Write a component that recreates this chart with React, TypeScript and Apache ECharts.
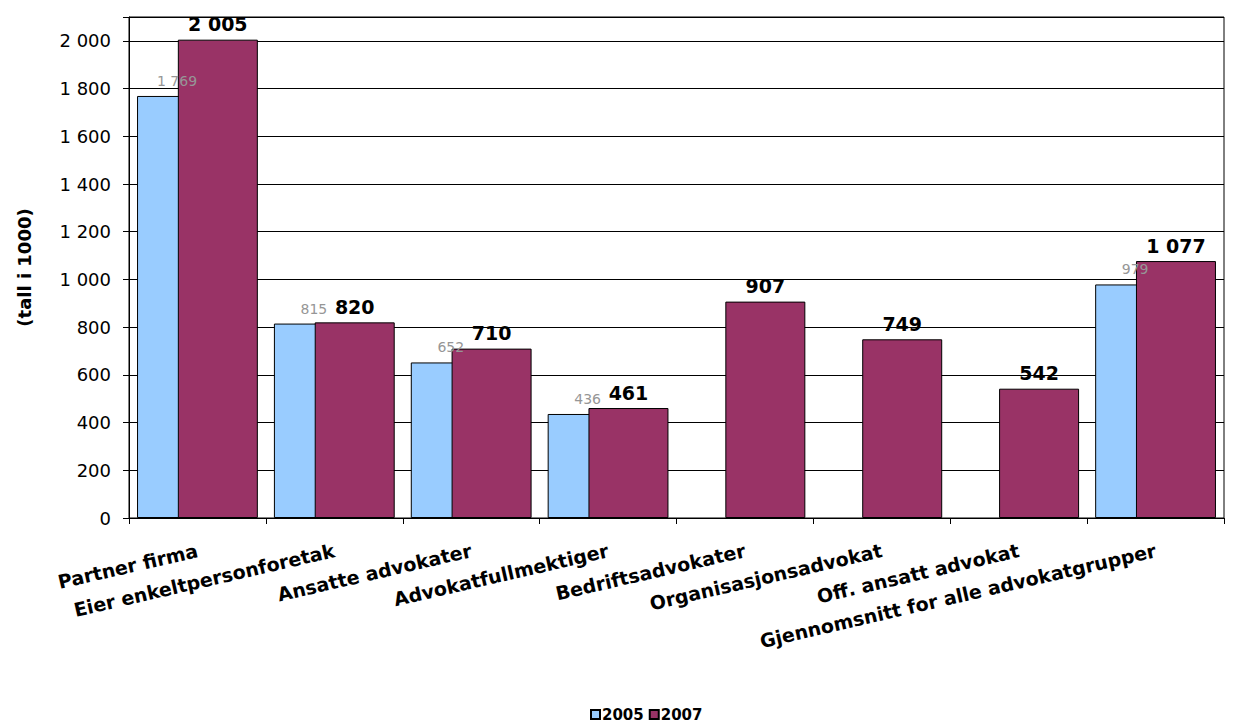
import React, { useEffect, useRef } from "react";
import * as echarts from "echarts";

const categories = [
  "Partner firma",
  "Eier enkeltpersonforetak",
  "Ansatte advokater",
  "Advokatfullmektiger",
  "Bedriftsadvokater",
  "Organisasjonsadvokat",
  "Off. ansatt advokat",
  "Gjennomsnitt for alle advokatgrupper",
];
const seriesNames = ["2005", "2007"];
const values2005: (number | null)[] = [1769, 815, 652, 436, null, null, null, 979];
const values2007: number[] = [2005, 820, 710, 461, 907, 749, 542, 1077];
const yAxisName = "(tall i 1000)";

const fmt = (v: number) =>
  v >= 1000 ? `${Math.floor(v / 1000)} ${String(v % 1000).padStart(3, "0")}` : String(v);

const FONT = "'DejaVu Sans', Verdana, sans-serif";

export default function App() {
  const ref = useRef<HTMLDivElement>(null);
  useEffect(() => {
    if (!ref.current) return;
    const chart = echarts.init(ref.current, undefined, { renderer: "svg" });
    chart.setOption({
      animation: false,
      backgroundColor: "#fff",
      textStyle: { fontFamily: FONT },
      grid: {
        left: 129,
        right: 10,
        top: 17,
        bottom: 204,
        show: true,
        borderColor: "#000",
        borderWidth: 1,
        containLabel: false,
      },
      legend: {
        data: seriesNames,
        left: 590,
        top: 707,
        padding: 0,
        itemWidth: 9,
        itemHeight: 9,
        itemGap: 5,
        icon: "rect",
        textStyle: { fontFamily: FONT, fontWeight: "bold", fontSize: 15, color: "#000", padding: [0, 0, 0, -3] },
      },
      xAxis: {
        type: "category",
        data: categories,
        axisLine: { lineStyle: { color: "#000", width: 1 } },
        axisTick: { show: true, length: 6, lineStyle: { color: "#000" } },
        axisLabel: {
          interval: 0,
          rotate: 13,
          margin: 32,
          fontFamily: FONT,
          fontWeight: "bold",
          fontSize: 19,
          color: "#000",
        },
      },
      yAxis: {
        type: "value",
        min: 0,
        max: 2100,
        interval: 200,
        name: yAxisName,
        nameLocation: "middle",
        nameGap: 96,
        nameTextStyle: { fontFamily: FONT, fontWeight: "bold", fontSize: 18, color: "#000" },
        axisLine: { show: true, lineStyle: { color: "#000", width: 1 } },
        axisTick: { show: true, length: 6, inside: false, lineStyle: { color: "#000" } },
        splitLine: { show: true, lineStyle: { color: "#000", width: 1 } },
        axisLabel: {
          margin: 18,
          fontFamily: FONT,
          fontSize: 18,
          color: "#000",
          formatter: (v: number) => (v === 2100 ? "" : fmt(v)),
        },
      },
      series: [
        {
          name: seriesNames[0],
          type: "bar",
          data: values2005,
          barWidth: 80,
          barGap: "-49%",
          itemStyle: { color: "#99CCFF", borderColor: "#000", borderWidth: 1 },
          label: {
            show: true,
            position: "top",
            distance: 8,
            fontFamily: FONT,
            fontSize: 14,
            color: "#969696",
            formatter: (p: any) => (p.value == null ? "" : fmt(p.value)),
          },
        },
        {
          name: seriesNames[1],
          type: "bar",
          data: values2007,
          barWidth: 80,
          itemStyle: { color: "#993366", borderColor: "#000", borderWidth: 1 },
          label: {
            show: true,
            position: "top",
            distance: 6,
            fontFamily: FONT,
            fontWeight: "bold",
            fontSize: 19,
            color: "#000",
            formatter: (p: any) => fmt(p.value),
          },
        },
      ],
    });
    return () => chart.dispose();
  }, []);
  return (
    <div
      ref={ref}
      style={{ position: "fixed", left: 0, top: 0, width: 1234, height: 722, background: "#fff" }}
    />
  );
}
